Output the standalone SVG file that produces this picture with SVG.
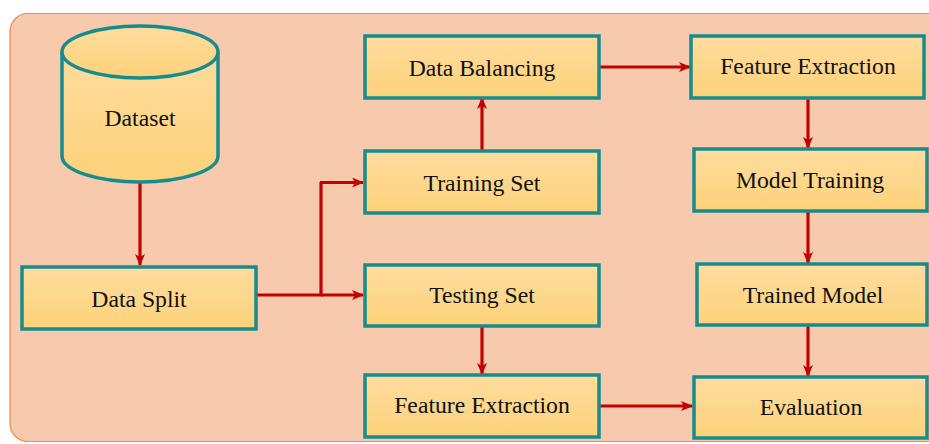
<svg xmlns="http://www.w3.org/2000/svg" width="929" height="444" viewBox="0 0 929 444">
<defs>
<linearGradient id="g" x1="0" y1="0" x2="0" y2="1">
<stop offset="0" stop-color="#FEDC9E"/>
<stop offset="1" stop-color="#FDD27A"/>
</linearGradient>
<marker id="ah" markerWidth="12" markerHeight="10" refX="11" refY="5" orient="auto" markerUnits="userSpaceOnUse">
<path d="M0,0 L12,5 L0,10 L3,5 z" fill="#C40000"/>
</marker>
<style>
.box{fill:url(#g);stroke:#178C8C;stroke-width:3.5}
.t{font-family:"Liberation Serif","Times New Roman",serif;font-size:23.7px;fill:#111;text-anchor:middle}
.c{fill:none;stroke:#C40000;stroke-width:3.2;marker-end:url(#ah)}
.cn{fill:none;stroke:#C40000;stroke-width:3.2}
</style>
</defs>
<rect x="10" y="13.5" width="940" height="428" rx="18" fill="#F7CAAE" stroke="#F08A48" stroke-width="1.2"/>
<g id="connectors">
<path class="c" d="M140,182 V265"/>
<path class="cn" d="M256,295 H321 V182"/>
<path class="c" d="M320,182.5 H363"/>
<path class="c" d="M321,295 H363"/>
<path class="c" d="M482,150 V98"/>
<path class="c" d="M599,67 H690"/>
<path class="c" d="M808,98 V148"/>
<path class="c" d="M808,212 V263"/>
<path class="c" d="M808,325 V376"/>
<path class="c" d="M482,326 V374"/>
<path class="c" d="M599,406 H692"/>
</g>
<g id="dataset">
<path class="box" d="M62,52 V156 A78,26 0 0 0 218,156 V52"/>
<ellipse class="box" cx="140" cy="52" rx="78" ry="26"/>
<text class="t" x="140" y="126">Dataset</text>
</g>
<g id="data-split">
<rect class="box" x="22" y="267" width="234" height="62"/>
<text class="t" x="139" y="307">Data Split</text>
</g>
<g id="data-balancing">
<rect class="box" x="365" y="36" width="234" height="62"/>
<text class="t" x="482" y="76">Data Balancing</text>
</g>
<g id="training-set">
<rect class="box" x="365" y="151" width="234" height="62"/>
<text class="t" x="482" y="191">Training Set</text>
</g>
<g id="testing-set">
<rect class="box" x="365" y="265" width="234" height="61"/>
<text class="t" x="482" y="303">Testing Set</text>
</g>
<g id="feature-extraction-test">
<rect class="box" x="365" y="375" width="234" height="62"/>
<text class="t" x="482" y="413">Feature Extraction</text>
</g>
<g id="feature-extraction-train">
<rect class="box" x="691" y="36" width="233" height="62"/>
<text class="t" x="808" y="74">Feature Extraction</text>
</g>
<g id="model-training">
<rect class="box" x="694" y="149" width="233" height="62"/>
<text class="t" x="810" y="188">Model Training</text>
</g>
<g id="trained-model">
<rect class="box" x="697" y="264" width="230" height="61"/>
<text class="t" x="813" y="303">Trained Model</text>
</g>
<g id="evaluation">
<rect class="box" x="694" y="377" width="233" height="61"/>
<text class="t" x="811" y="415">Evaluation</text>
</g>
</svg>
